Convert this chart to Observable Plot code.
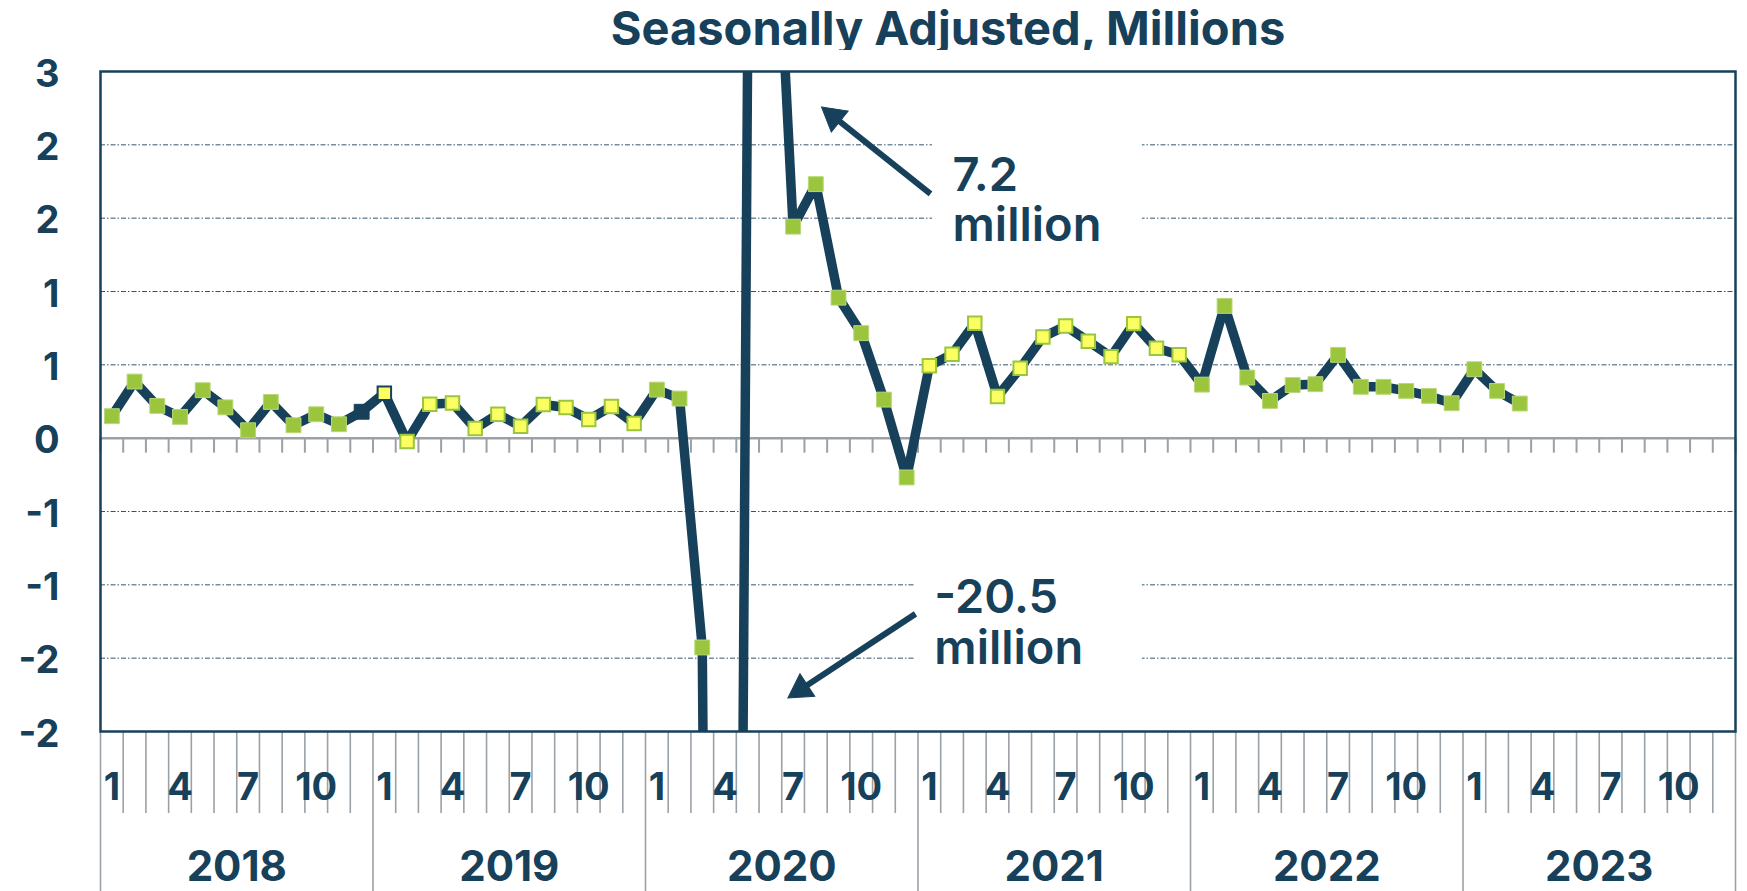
<!DOCTYPE html>
<html><head><meta charset="utf-8">
<script src="https://cdn.jsdelivr.net/npm/d3@7"></script>
<script src="https://cdn.jsdelivr.net/npm/@observablehq/plot@0.6"></script>
<style>
body{margin:0;background:#fff;width:1747px;height:891px;overflow:hidden;position:relative;}
#title{position:absolute;left:948px;top:0;transform:translateX(-50%);font-family:Inter,sans-serif;font-weight:700;font-size:47px;color:#17405a;white-space:nowrap;line-height:56px;}
#chart{position:absolute;left:0;top:50px;}
</style></head><body>
<div id="title">Seasonally Adjusted, Millions</div>
<div id="chart"></div>
<script>
// ---- data (millions, monthly change, seasonally adjusted) ----
const startYear = 2018;
const values2018 = [0.15, 0.386, 0.22, 0.145, 0.327, 0.21, 0.054, 0.247, 0.088, 0.163, 0.095, 0.18];
const values2019 = [0.307, -0.023, 0.232, 0.24, 0.066, 0.163, 0.082, 0.229, 0.209, 0.127, 0.216, 0.1];
const values2020 = [0.331, 0.27, -1.427, -20.5, 2.7, 4.5, 1.442, 1.732, 0.958, 0.716, 0.263, -0.268];
const values2021 = [0.493, 0.572, 0.784, 0.284, 0.477, 0.69, 0.765, 0.661, 0.556, 0.781, 0.613, 0.568];
const values2022 = [0.365, 0.902, 0.413, 0.254, 0.362, 0.368, 0.568, 0.35, 0.35, 0.322, 0.288, 0.238];
const values2023 = [0.47, 0.322, 0.236];
const years = [2018, 2019, 2020, 2021, 2022, 2023];
const monthTickLabels = [1, 4, 7, 10];
const yTicks = [-2, -1.5, -1, -0.5, 0, 0.5, 1, 1.5, 2, 2.5];
const yTickLabels = ["-2", "-2", "-1", "-1", "0", "1", "1", "2", "2", "3"];
const gridVals = [-1.5, -1, -0.5, 0.5, 1, 1.5, 2];
const yellowYears = [2019, 2021];

// annotations (month index / value units)
const annTexts = [
  {label: "7.2\nmillion", x: 37.52, y: 1.933},
  {label: "-20.5\nmillion", x: 36.72, y: -0.945}
];
const annBoxes = [
  {x1: 36.64, x2: 45.88, y1: 1.25, y2: 2.25},
  {x1: 35.89, x2: 45.88, y1: -1.75, y2: -0.75}
];
const annArrows = [
  {x1: 36.55, y1: 1.665, x2: 31.75, y2: 2.258},
  {x1: 35.89, y1: -1.198, x2: 30.27, y2: -1.771}
];

// ---- layout ----
const W = 1747, H = 841, mT = 21, mB = 160, mL = 100, mR = 12;
const nMonths = 72;
const pxPerUnit = (H - mT - mB) / 4.5;
const pxPerMonth = (W - mL - mR) / nMonths;
const navy = "#17405a", green = "#9bc53d", yellow = "#fbff62", gray = "#9aa1a7";

const allValues = [...values2018, ...values2019, ...values2020, ...values2021, ...values2022, ...values2023];
const data = allValues.map((v, i) => ({i, x: i + 0.5, y: v, year: startYear + Math.floor(i / 12), month: (i % 12) + 1}));
const bounds = d3.range(0, nMonths + 1);
const monthTicks = years.flatMap((yr, k) => monthTickLabels.map(m => ({x: k * 12 + m - 0.5, label: String(m)})));

// arrow heads
const headR = 10;
const heads = annArrows.map(a => {
  const dx = (a.x2 - a.x1) * pxPerMonth, dy = -(a.y2 - a.y1) * pxPerUnit;
  const len = Math.hypot(dx, dy), ux = dx / len, uy = dy / len;
  const back = 1.555 * headR;
  return {
    cx: a.x2 - ux * back / pxPerMonth,
    cy: a.y2 + uy * back / pxPerUnit,
    lx: a.x2 - ux * (back + 2) / pxPerMonth,
    ly: a.y2 + uy * (back + 2) / pxPerUnit,
    rot: Math.atan2(ux, -uy) * 180 / Math.PI
  };
});
const shafts = annArrows.map((a, k) => ({x1: a.x1, y1: a.y1, x2: heads[k].lx, y2: heads[k].ly}));

const isSpecialDark = d => d.year === 2018 && d.month === 12;
const isDarkOutline = d => d.year === 2019 && d.month === 1;

const chart = Plot.plot({
  width: W, height: H,
  marginTop: mT, marginBottom: mB, marginLeft: mL, marginRight: mR,
  x: {type: "linear", domain: [0, nMonths], axis: null},
  y: {type: "linear", domain: [-2, 2.5], axis: null},
  style: {background: "white", overflow: "visible"},
  marks: [
    Plot.ruleY(gridVals, {stroke: "#34566d", strokeWidth: 1, strokeDasharray: "5,2,1.5,2"}),
    Plot.rect(annBoxes, {x1: "x1", x2: "x2", y1: "y1", y2: "y2", fill: "white"}),
    Plot.ruleY([0], {stroke: gray, strokeWidth: 2.5}),
    Plot.ruleX(bounds, {x: d => d, y1: 0, y2: -15 / pxPerUnit, stroke: gray, strokeWidth: 2}),
    Plot.ruleX(bounds, {x: d => d, y1: -2, y2: d => -2 - (d % 12 === 0 ? 160 : 82) / pxPerUnit, stroke: gray, strokeWidth: 1.6}),
    Plot.line(data, {x: "x", y: "y", stroke: navy, strokeWidth: 9.5, clip: true}),
    Plot.dot(data.filter(d => !yellowYears.includes(d.year) && !isSpecialDark(d)),
      {x: "x", y: "y", symbol: "square", r: 8.4, fill: green, stroke: "#b9d879", strokeWidth: 1, clip: true}),
    Plot.dot(data.filter(isSpecialDark),
      {x: "x", y: "y", symbol: "square", r: 8.4, fill: navy, stroke: navy, strokeWidth: 1, clip: true}),
    Plot.dot(data.filter(d => yellowYears.includes(d.year)),
      {x: "x", y: "y", symbol: "square", r: 7.6, fill: yellow, stroke: d => isDarkOutline(d) ? navy : green, strokeWidth: 2, clip: true}),
    Plot.frame({stroke: navy, strokeWidth: 2.5}),
    Plot.text(yTicks, {y: d => d, frameAnchor: "left", lineAnchor: "middle", dx: -41, dy: 3, text: (d, i) => yTickLabels[i], textAnchor: "end",
      fontSize: 38, fontWeight: 700, fill: navy, fontFamily: "Inter"}),
    Plot.text(monthTicks, {x: "x", frameAnchor: "bottom", lineAnchor: "middle", dy: 56, text: "label", fontSize: 38, fontWeight: 700, fill: navy, fontFamily: "Inter"}),
    Plot.text(years, {x: (d, i) => i * 12 + 6, frameAnchor: "bottom", lineAnchor: "middle", dy: 136, text: d => String(d), fontSize: 42, fontWeight: 700, fill: navy, fontFamily: "Inter"}),
    Plot.link(shafts, {x1: "x1", y1: "y1", x2: "x2", y2: "y2", stroke: navy, strokeWidth: 6, strokeLinecap: "butt"}),
    Plot.dot(heads, {x: "cx", y: "cy", symbol: "triangle", r: headR, rotate: "rot", fill: navy, stroke: navy, strokeWidth: 1}),
    Plot.text(annTexts, {x: "x", y: "y", text: "label", textAnchor: "start", lineAnchor: "top", lineHeight: 1.08, fontSize: 47, fontWeight: 600, fill: navy, fontFamily: "Inter"})
  ]
});
document.getElementById("chart").appendChild(chart);
</script></body></html>
